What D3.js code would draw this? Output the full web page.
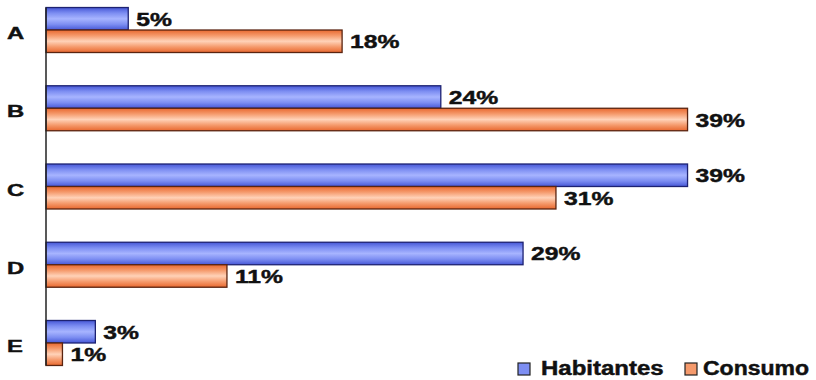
<!DOCTYPE html>
<html>
<head>
<meta charset="utf-8">
<script src="https://cdn.jsdelivr.net/npm/d3@7/dist/d3.min.js"></script>
<style>
  html, body { margin: 0; padding: 0; background: #fff; }
  svg { display: block; }
  text { font-family: "Liberation Sans", Arial, sans-serif; font-weight: bold; fill: #111; stroke: #111; stroke-width: 0.45; }
</style>
</head>
<body>
<svg id="chart" width="816" height="380"></svg>
<script>
// Categories and series (percent shares)
const categories = ["A", "B", "C", "D", "E"];
const seriesNames = ["Habitantes", "Consumo"];
const habitantes = [5, 24, 39, 29, 3];
const consumo = [18, 39, 31, 11, 1];

const svg = d3.select("#chart");

const x = d3.scaleLinear().domain([0, 40]).range([46, 704]);
const y = d3.scaleBand().domain(categories).range([-9.1, 382.1])
  .paddingInner(0.425).paddingOuter(0.2125);
const ySub = d3.scaleBand().domain(seriesNames).range([0, y.bandwidth()]).padding(0);

const defs = svg.append("defs");
function grad(id, edge, mid, light) {
  const g = defs.append("linearGradient").attr("id", id)
    .attr("x1", 0).attr("y1", 0).attr("x2", 0).attr("y2", 1);
  g.append("stop").attr("offset", "0%").attr("stop-color", edge);
  g.append("stop").attr("offset", "25%").attr("stop-color", mid);
  g.append("stop").attr("offset", "50%").attr("stop-color", light);
  g.append("stop").attr("offset", "75%").attr("stop-color", mid);
  g.append("stop").attr("offset", "100%").attr("stop-color", edge);
}
grad("gHab", "#4657d6", "#7d8ef2", "#a7b4ff");
grad("gCon", "#e8682f", "#f59a6c", "#ffd2b8");

const fills = { Habitantes: "url(#gHab)", Consumo: "url(#gCon)" };
const strokes = { Habitantes: "#1d2272", Consumo: "#5a2410" };
const legendFills = { Habitantes: "#7d8ef2", Consumo: "#f59a6c" };

const rows = categories.map((c, i) => ({
  cat: c,
  vals: [
    { s: "Habitantes", v: habitantes[i] },
    { s: "Consumo", v: consumo[i] }
  ]
}));

const groups = svg.selectAll("g.cat").data(rows).join("g")
  .attr("class", "cat")
  .attr("transform", d => `translate(0,${y(d.cat)})`);

groups.selectAll("rect").data(d => d.vals).join("rect")
  .attr("x", x(0))
  .attr("y", d => ySub(d.s))
  .attr("width", d => x(d.v) - x(0))
  .attr("height", ySub.bandwidth())
  .attr("fill", d => fills[d.s])
  .attr("stroke", d => strokes[d.s])
  .attr("stroke-width", 1.3);

// value labels
groups.selectAll("text.val").data(d => d.vals).join("text")
  .attr("class", "val")
  .attr("transform", d => `translate(${x(d.v) + 8},${ySub(d.s) + ySub.bandwidth() / 2 + 7}) scale(1.3,1)`)
  .attr("font-size", 19)
  .text(d => d.v + "%");

// category labels
svg.selectAll("text.catlab").data(categories).join("text")
  .attr("class", "catlab")
  .attr("transform", d => `translate(7,${y(d) + y.bandwidth() / 2 + 9}) scale(1.4,1)`)
  .attr("font-size", 17)
  .text(d => d);

// value axis baseline
svg.append("line")
  .attr("x1", x(0)).attr("x2", x(0))
  .attr("y1", y("A")).attr("y2", y("E") + y.bandwidth())
  .attr("stroke", "#222").attr("stroke-width", 1.5);

// legend
const legendBox = { Habitantes: 518, Consumo: 685 };
const legendText = { Habitantes: 541, Consumo: 703 };
const leg = svg.selectAll("g.leg").data(seriesNames).join("g").attr("class", "leg");
leg.append("rect")
  .attr("x", d => legendBox[d]).attr("y", 363)
  .attr("width", 12).attr("height", 12)
  .attr("fill", d => legendFills[d])
  .attr("stroke", "#222").attr("stroke-width", 1.2);
leg.append("text")
  .attr("transform", d => `translate(${legendText[d]},375) scale(${d === "Habitantes" ? 1.23 : 1.18},1)`)
  .attr("font-size", 19.5)
  .text(d => d);
</script>
</body>
</html>
